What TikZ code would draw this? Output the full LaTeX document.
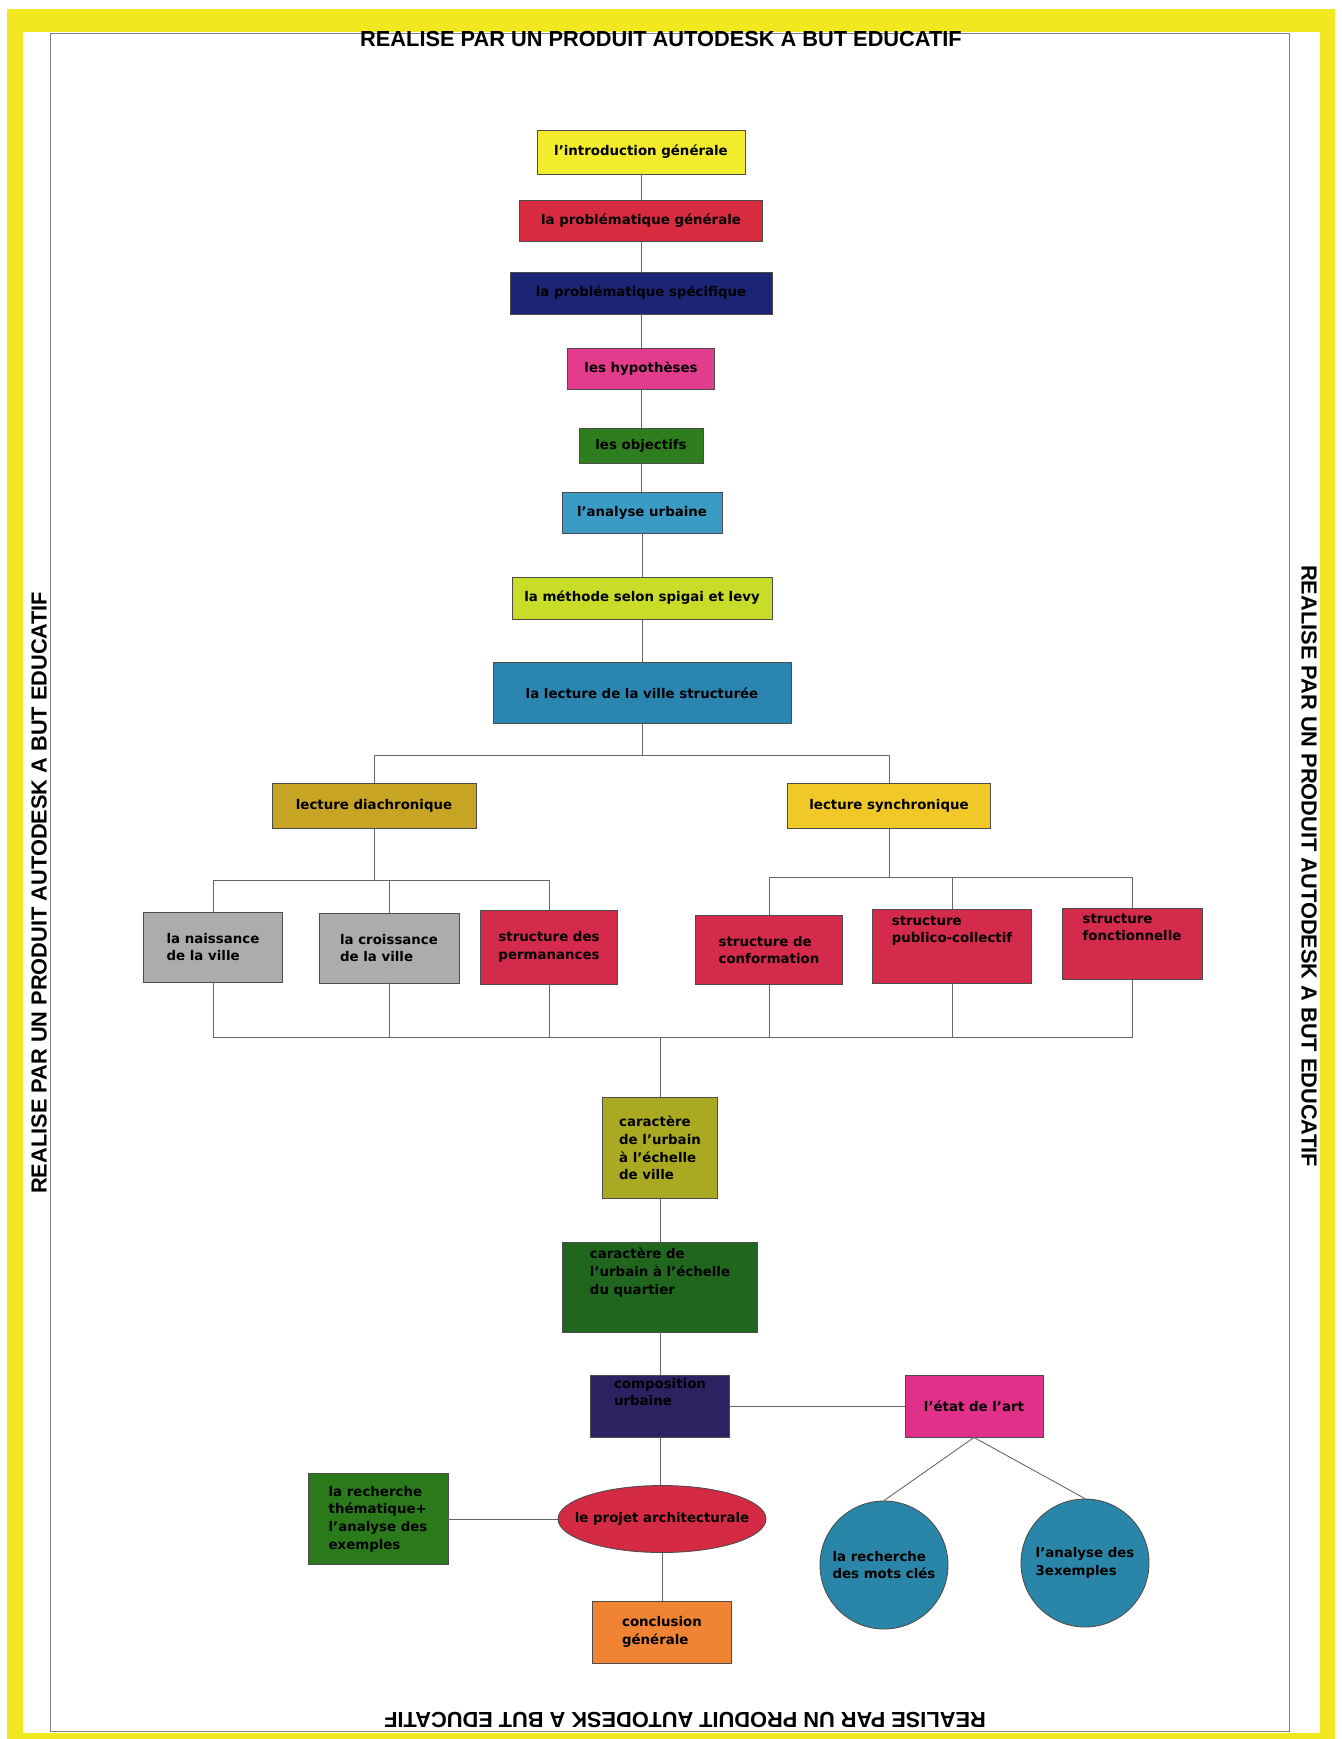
\documentclass[tikz,border=0pt]{standalone}
\usepackage{fontspec}
\setmainfont{DejaVu Sans}
\newfontfamily\stampfont{Liberation Sans}
\usepackage{xcolor}
\usepackage{tikz}
\usetikzlibrary{shapes.geometric, positioning, calc}
\definecolor{pageframe}{RGB}{242,232,32}
\definecolor{cintro}{RGB}{242,236,44}
\definecolor{cprobgen}{RGB}{217,43,63}
\definecolor{cprobspec}{RGB}{28,36,118}
\definecolor{chypo}{RGB}{228,60,140}
\definecolor{cobj}{RGB}{46,125,30}
\definecolor{canalyse}{RGB}{58,156,196}
\definecolor{cmethode}{RGB}{200,220,40}
\definecolor{cville}{RGB}{42,134,176}
\definecolor{cdia}{RGB}{200,164,36}
\definecolor{csyn}{RGB}{240,200,40}
\definecolor{cgris}{RGB}{171,173,173}
\definecolor{ccrimson}{RGB}{212,42,76}
\definecolor{colive}{RGB}{170,170,34}
\definecolor{cquartier}{RGB}{32,102,30}
\definecolor{ccompo}{RGB}{44,34,98}
\definecolor{cetat}{RGB}{224,48,138}
\definecolor{cprojet}{RGB}{212,42,68}
\definecolor{crecherche}{RGB}{42,122,28}
\definecolor{cconcl}{RGB}{240,132,52}
\definecolor{cbulle}{RGB}{42,134,168}

\begin{document}
\begin{tikzpicture}[x=0.02cm, y=-0.02cm,
        box/.style={draw=black!70, line width=0.5pt, rectangle, inner sep=0pt, align=left, font=\fontsize{7.6}{10}\selectfont\bfseries},
        bulle/.style={box, circle, minimum size=2.56cm, fill=cbulle},
        stamp/.style={font=\stampfont\fontsize{12.4}{14}\selectfont\bfseries},
        link/.style={draw=black!60, line width=0.5pt}
    ]
    \useasboundingbox (0,0) rectangle (1342,1739);

    % Page frame
    \fill[white] (0,0) rectangle (1342,1739);
    \fill[pageframe] (7,9) rectangle (1335,1739);
    \fill[white] (23,32) rectangle (1320,1733);
    \draw[black!50, line width=0.4pt] (50,33) rectangle (1289,1731);
    \node[stamp] (stamptop) at (661,39) {REALISE PAR UN PRODUIT AUTODESK A BUT EDUCATIF};
    \node[stamp, rotate=180] (stampbot) at (685,1720) {REALISE PAR UN PRODUIT AUTODESK A BUT EDUCATIF};
    \node[stamp, rotate=90] (stampleft) at (39,893) {REALISE PAR UN PRODUIT AUTODESK A BUT EDUCATIF};
    \node[stamp, rotate=-90] (stampright) at (1309,866) {REALISE PAR UN PRODUIT AUTODESK A BUT EDUCATIF};

    % Main chain
    \node[box, fill=cintro, minimum width=4.16cm, minimum height=0.88cm] (intro) at (641,152) {l'introduction générale};
    \node[box, fill=cprobgen, minimum width=4.86cm, minimum height=0.82cm] (probgen) at (641,221) {la problématique générale};
    \node[box, fill=cprobspec, minimum width=5.24cm, minimum height=0.84cm] (probspec) at (641,293) {la problématique spécifique};
    \node[box, fill=chypo, minimum width=2.94cm, minimum height=0.82cm] (hypo) at (641,369) {les hypothèses};
    \node[box, fill=cobj, minimum width=2.48cm, minimum height=0.70cm] (obj) at (641,446) {les objectifs};
    \node[box, fill=canalyse, minimum width=3.20cm, minimum height=0.82cm] (analyse) at (642,513) {l'analyse urbaine};
    \node[box, fill=cmethode, minimum width=5.20cm, minimum height=0.84cm] (methode) at (642,598) {la méthode selon spigai et levy};
    \node[box, fill=cville, minimum width=5.96cm, minimum height=1.22cm] (ville) at (642,693) {la lecture de la ville structurée};

    % Two readings
    \node[box, fill=cdia, minimum width=4.08cm, minimum height=0.90cm] (dia) at (374,806) {lecture diachronique};
    \node[box, fill=csyn, minimum width=4.06cm, minimum height=0.90cm] (syn) at (889,806) {lecture synchronique};

    % Structures
    \node[box, fill=cgris, minimum width=2.78cm, minimum height=1.40cm] (naiss) at (213,947) {la naissance\\de la ville};
    \node[box, fill=cgris, minimum width=2.80cm, minimum height=1.40cm] (crois) at (389,948) {la croissance\\de la ville};
    \node[box, fill=ccrimson, minimum width=2.74cm, minimum height=1.48cm] (perm) at (549,947) {structure des\\permanances};
    \node[box, fill=ccrimson, minimum width=2.94cm, minimum height=1.38cm] (conf) at (769,950) {structure de\\conformation};
    \node[box, fill=ccrimson, minimum width=3.18cm, minimum height=1.48cm] (publ) at (952,946) {structure\\publico-collectif\\[9pt]};
    \node[box, fill=ccrimson, minimum width=2.80cm, minimum height=1.42cm] (fonc) at (1132,944) {structure\\fonctionnelle\\[9pt]};

    % Lower chain
    \node[box, fill=colive, minimum width=2.30cm, minimum height=2.02cm] (carville) at (660,1148) {caractère\\de l'urbain\\à l'échelle\\de ville};
    \node[box, fill=cquartier, minimum width=3.90cm, minimum height=1.80cm] (carquart) at (660,1287) {caractère de\\l'urbain à l'échelle\\du quartier\\[8pt]};
    \node[box, fill=ccompo, minimum width=2.78cm, minimum height=1.24cm] (compo) at (660,1406) {composition\\urbaine\\[6pt]};
    \node[box, fill=cetat, minimum width=2.76cm, minimum height=1.24cm] (etat) at (974,1406) {l'état de l'art};
    \node[box, ellipse, fill=cprojet, minimum width=4.16cm, minimum height=1.34cm] (projet) at (662,1519) {};
    \node[box, draw=none] (projettxt) at (projet) {le projet architecturale};
    \node[box, fill=crecherche, minimum width=2.80cm, minimum height=1.82cm] (recherche) at (378,1519) {la recherche\\thématique+\\l'analyse des\\exemples};
    \node[box, fill=cconcl, minimum width=2.78cm, minimum height=1.24cm] (concl) at (662,1632) {conclusion\\générale};
    \node[bulle] (motscles) at (884,1565) {la recherche\\des mots clés};
    \node[bulle] (exemples) at (1085,1563) {l'analyse des\\3exemples};

    % Links
    \draw[link] (intro) -- (probgen);
    \draw[link] (probgen) -- (probspec);
    \draw[link] (probspec) -- (hypo);
    \draw[link] (hypo) -- (obj);
    \draw[link] (obj) -- (obj.south |- analyse.north);
    \draw[link] (analyse) -- (methode);
    \draw[link] (methode) -- (ville);

    \coordinate (vsplit) at (642,755);
    \draw[link] (ville) -- (vsplit);
    \draw[link] (dia.north) |- (vsplit) -| (syn.north);

    \coordinate (dsplit) at (374,880);
    \draw[link] (dia) -- (dsplit);
    \draw[link] (naiss.north) |- (dsplit) -| (perm.north);
    \draw[link] (crois.north) -- (crois.north |- dsplit);

    \coordinate (ssplit) at (889,877);
    \draw[link] (syn) -- (ssplit);
    \draw[link] (conf.north) |- (ssplit) -| (fonc.north);
    \draw[link] (publ.north) -- (publ.north |- ssplit);

    \coordinate (merge) at (660,1037);
    \draw[link] (naiss.south) |- (merge) -| (fonc.south);
    \draw[link] (crois.south) -- (crois.south |- merge);
    \draw[link] (perm.south) -- (perm.south |- merge);
    \draw[link] (conf.south) -- (conf.south |- merge);
    \draw[link] (publ.south) -- (publ.south |- merge);
    \draw[link] (merge) -- (carville);

    \draw[link] (carville) -- (carquart);
    \draw[link] (carquart) -- (compo);
    \draw[link] (compo) -- (etat);
    \draw[link] (compo.south) -- (projet.north -| compo.south);
    \draw[link] (recherche) -- (projet);
    \draw[link] (projet) -- (concl);
    \draw[link] (etat.south) -- (motscles.north);
    \draw[link] (etat.south) -- (exemples.north);

\end{tikzpicture}
\end{document}
